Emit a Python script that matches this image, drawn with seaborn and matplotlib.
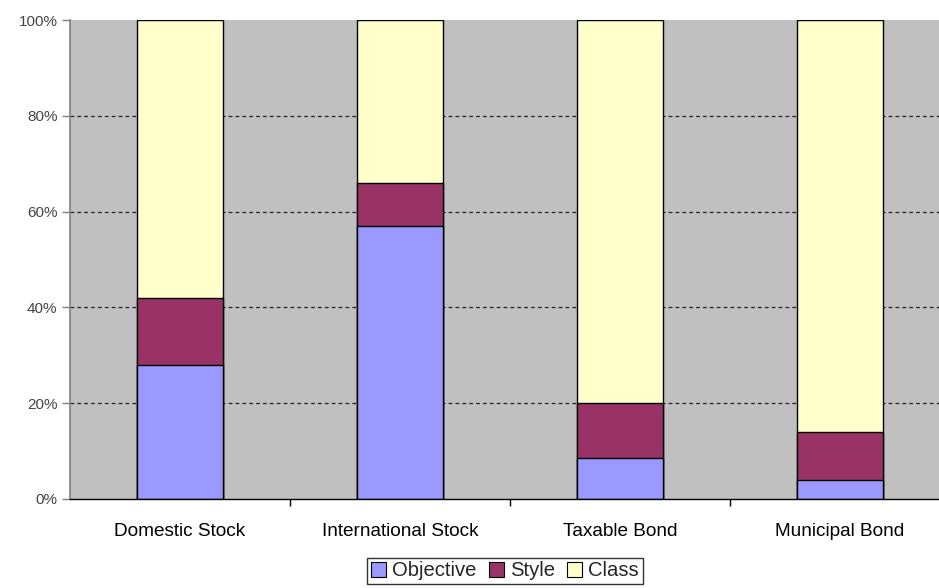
import numpy as np
import pandas as pd
import matplotlib
matplotlib.use("Agg")
import matplotlib.pyplot as plt
import seaborn as sns
from matplotlib.patches import Patch
from matplotlib.ticker import FixedLocator, PercentFormatter

# Share of funds (%) classified by each level of match
categories = ["Domestic Stock", "International Stock", "Taxable Bond", "Municipal Bond"]
objective = [28.0, 57.0, 8.5, 4.0]
style = [14.0, 9.0, 11.5, 10.0]
class_ = [58.0, 34.0, 80.0, 86.0]

series_names = ["Objective", "Style", "Class"]
colors = {"Objective": "#9999FF", "Style": "#993366", "Class": "#FFFFCC"}

df = pd.DataFrame({"category": categories, "Objective": objective,
                   "Style": style, "Class": class_})
# Cumulative tops for the 100% stack
df["top_obj"] = df["Objective"]
df["top_style"] = df["Objective"] + df["Style"]
df["top_class"] = df["top_style"] + df["Class"]

sns.set_style("white")
plt.rcParams["font.family"] = ["Liberation Sans", "DejaVu Sans"]

fig = plt.figure(figsize=(9.39, 5.88), dpi=100)
ax = fig.add_axes([70 / 939, 89 / 588, 880 / 939, 479 / 588])
ax.set_facecolor("#C0C0C0")

# Draw stacks from the tallest layer down so each segment shows
for col, name in [("top_class", "Class"), ("top_style", "Style"), ("top_obj", "Objective")]:
    sns.barplot(data=df, x="category", y=col, order=categories, color=colors[name],
                width=0.395, edgecolor="black", linewidth=1.0, saturation=1,
                errorbar=None, ax=ax, zorder=3)

ax.set_xlim(-0.5, 3.5)
ax.set_ylim(0, 100)
ax.set_xlabel("")
ax.set_ylabel("")

ax.yaxis.set_major_locator(FixedLocator([0, 20, 40, 60, 80, 100]))
ax.yaxis.set_major_formatter(PercentFormatter(decimals=0))
for y in [20, 40, 60, 80]:
    ax.axhline(y, color="#222222", linestyle=(0, (3, 2.5)), linewidth=0.9, zorder=1)

ax.tick_params(axis="y", which="major", left=True, length=6, width=1,
               color="#808080", labelsize=11, labelcolor="#444444", pad=3)
ax.tick_params(axis="x", which="major", bottom=False, length=0, labelsize=13.7,
               labelcolor="black", pad=17)
ax.xaxis.set_minor_locator(FixedLocator([0.5, 1.5, 2.5]))
ax.tick_params(axis="x", which="minor", bottom=True, length=5, width=1, color="black")

for side in ["top", "right"]:
    ax.spines[side].set_visible(False)
ax.spines["left"].set_color("#808080")
ax.spines["left"].set_linewidth(1.2)
ax.spines["bottom"].set_color("black")
ax.spines["bottom"].set_linewidth(1.0)
ax.spines["bottom"].set_zorder(5)

handles = [Patch(facecolor=colors[n], edgecolor="black", linewidth=0.8, label=n)
           for n in series_names]
leg = fig.legend(handles=handles, loc="center", bbox_to_anchor=(505 / 939, 1 - 571 / 588),
                 ncol=3, frameon=True, fancybox=False, fontsize=14.6,
                 handlelength=0.75, handleheight=0.75, handletextpad=0.3,
                 columnspacing=0.6, borderpad=0.18, borderaxespad=0)
leg.get_frame().set_edgecolor("black")
leg.get_frame().set_linewidth(1.0)

fig.savefig("out.png", dpi=100)
